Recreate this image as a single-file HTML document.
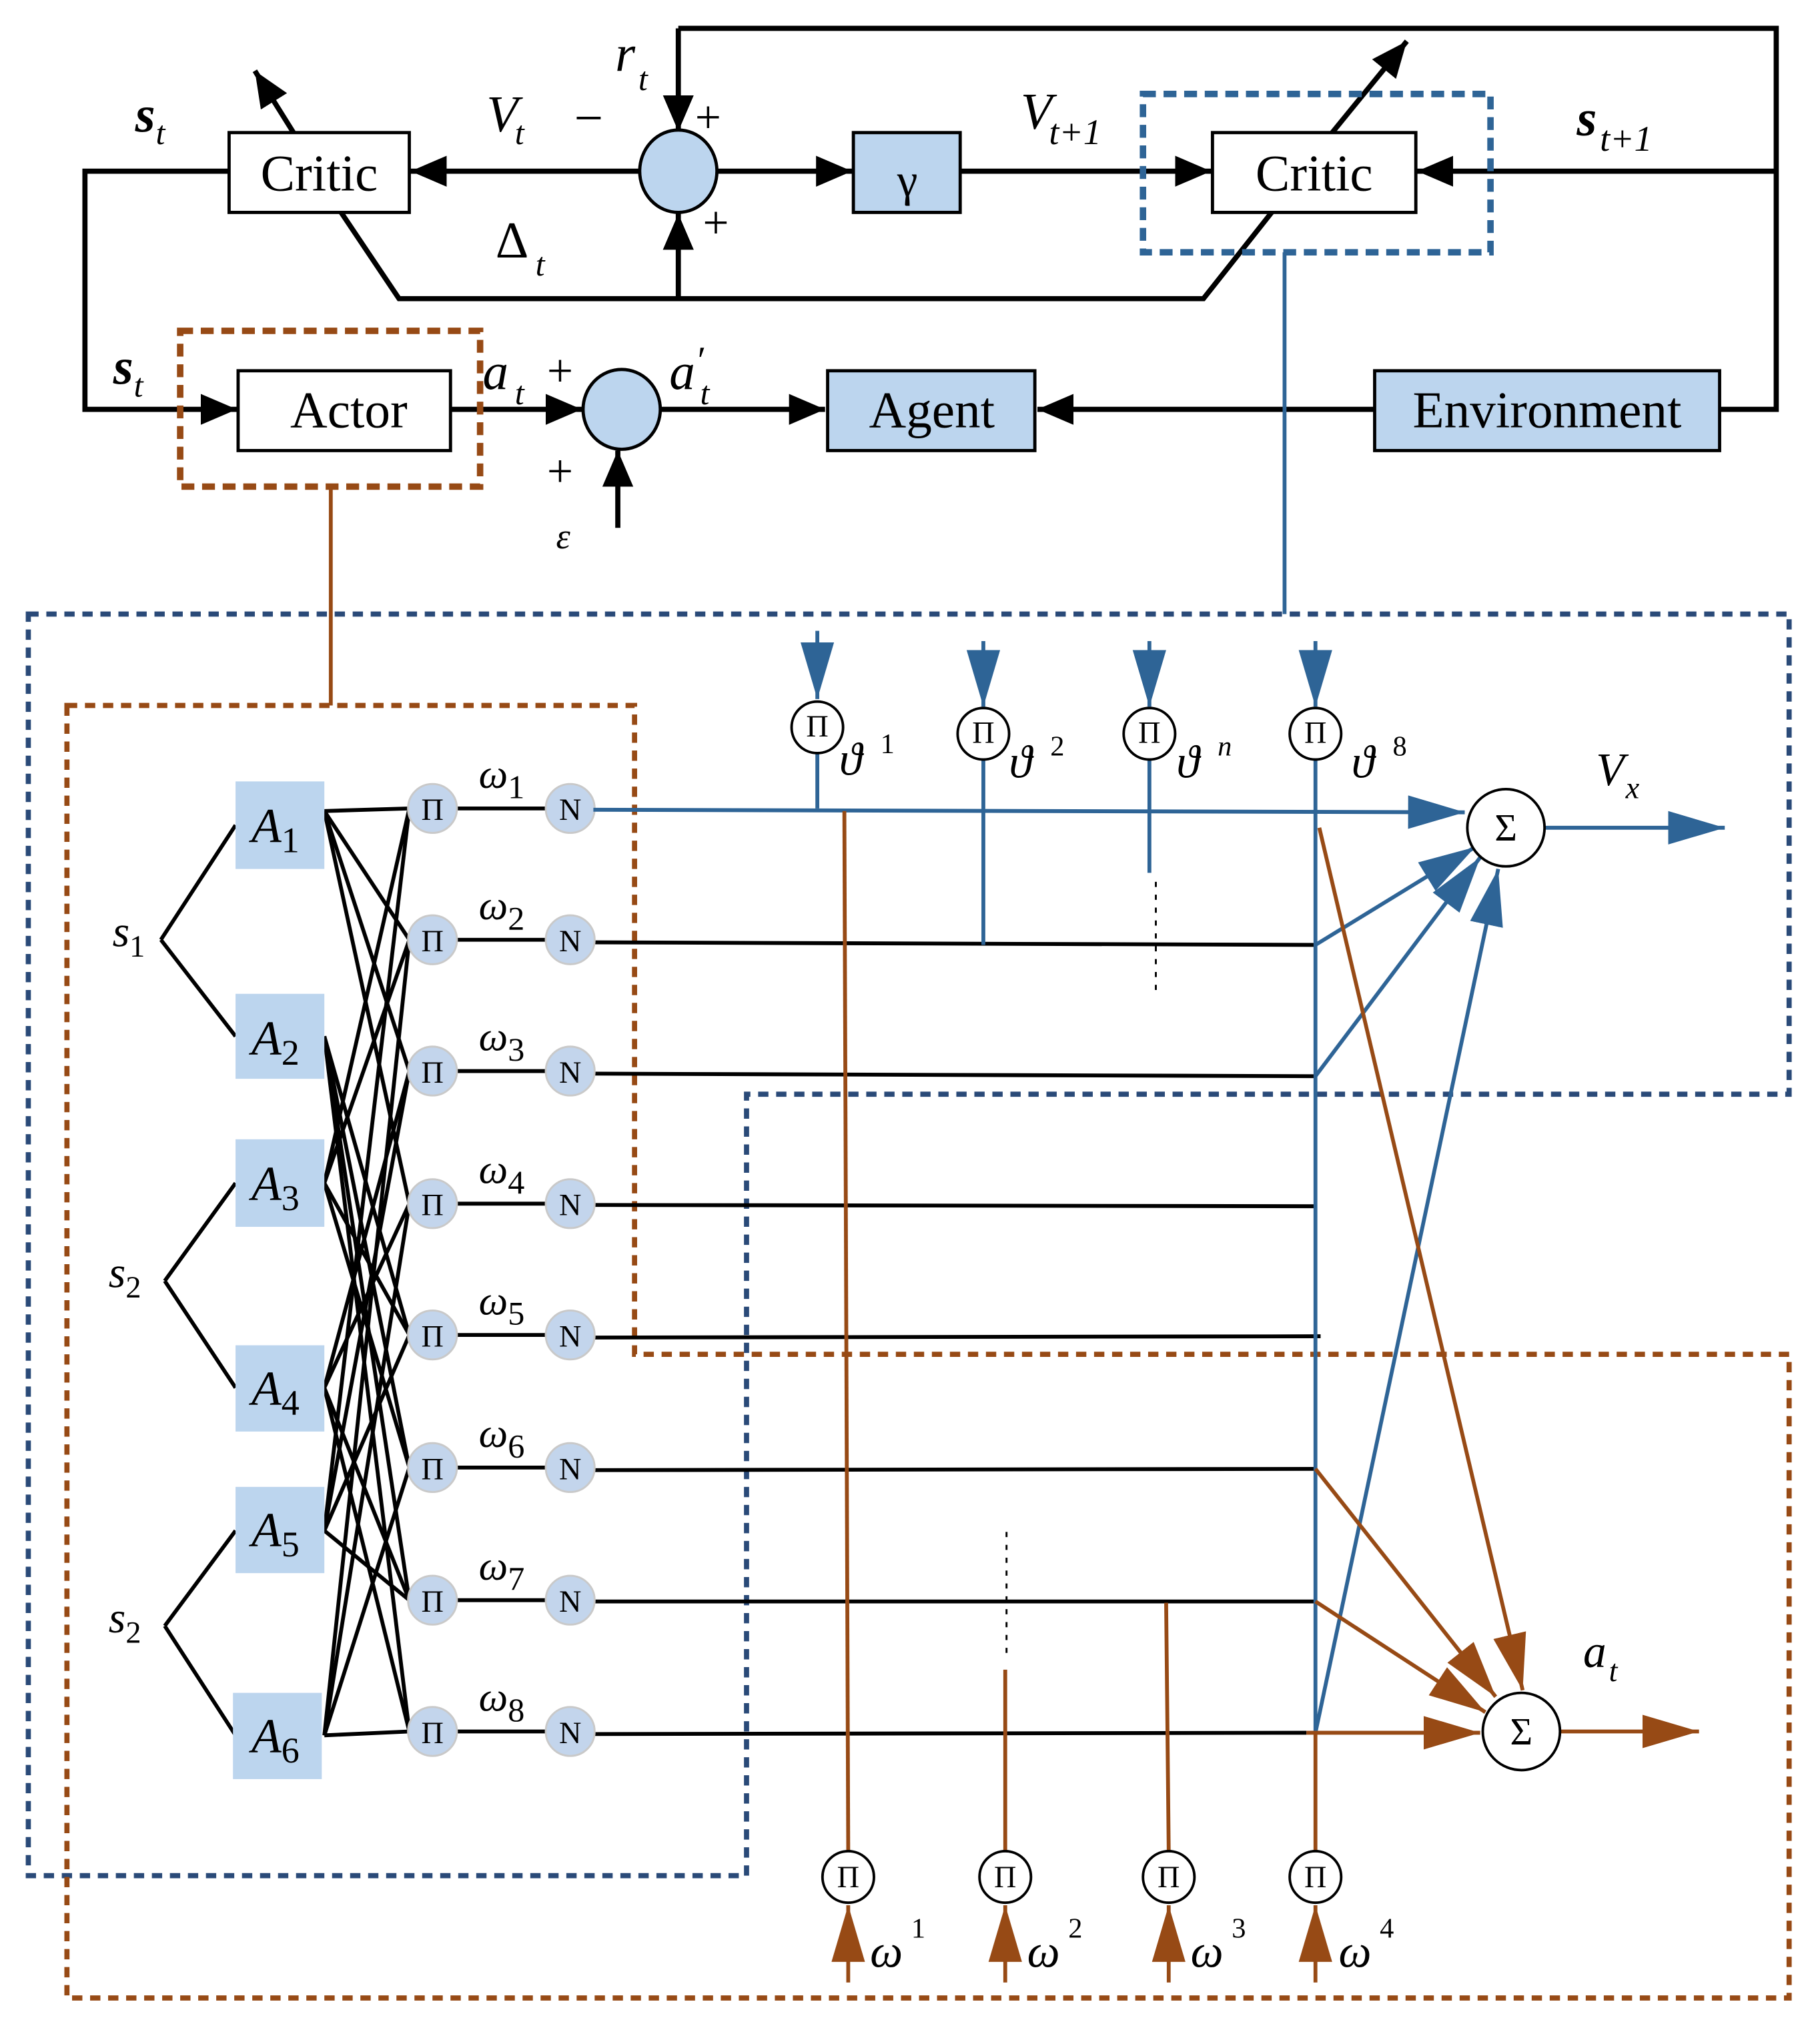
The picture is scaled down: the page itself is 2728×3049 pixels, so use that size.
<!DOCTYPE html>
<html><head><meta charset="utf-8"><style>html,body{margin:0;padding:0;background:#fff}svg{display:block}
text{font-family:"Liberation Serif","DejaVu Serif",serif}</style></head><body>
<svg width="2728" height="3049" viewBox="0 0 1414 1580" preserveAspectRatio="none" xmlns="http://www.w3.org/2000/svg">
<defs>
<marker id="k" markerWidth="30" markerHeight="30" refX="28" refY="12" orient="auto" markerUnits="userSpaceOnUse"><path d="M0,0 L28,12 L0,24 z" fill="#000"/></marker>
<marker id="b" markerWidth="46" markerHeight="30" refX="44" refY="13" orient="auto" markerUnits="userSpaceOnUse"><path d="M0,0 L44,13 L0,26 z" fill="#2e6496"/></marker>
<marker id="r" markerWidth="46" markerHeight="30" refX="44" refY="13" orient="auto" markerUnits="userSpaceOnUse"><path d="M0,0 L44,13 L0,26 z" fill="#974a15"/></marker>
</defs>
<g stroke="#000" stroke-width="4" fill="none">
<polyline points="527,22 1380,22 1380,318 1337,318"/>
<line x1="527" y1="22" x2="527" y2="102" marker-end="url(#k)"/>
<line x1="1380" y1="133" x2="1101" y2="133" marker-end="url(#k)"/>
<line x1="497" y1="133" x2="319" y2="133" marker-end="url(#k)"/>
<line x1="557" y1="133" x2="662" y2="133" marker-end="url(#k)"/>
<line x1="746" y1="133" x2="941" y2="133" marker-end="url(#k)"/>
<line x1="1035" y1="103" x2="1093" y2="32" marker-end="url(#k)"/>
<line x1="228" y1="103" x2="198" y2="55" marker-end="url(#k)"/>
<polyline points="178,133 66,133 66,318 184,318" marker-end="url(#k)"/>
<polyline points="265,165 310,232 935,232 988,165"/>
<line x1="527" y1="232" x2="527" y2="166" marker-end="url(#k)"/>
<line x1="350" y1="318" x2="452" y2="318" marker-end="url(#k)"/>
<line x1="513" y1="318" x2="641" y2="318" marker-end="url(#k)"/>
<line x1="1068" y1="318" x2="806" y2="318" marker-end="url(#k)"/>
<line x1="480" y1="410" x2="480" y2="350" marker-end="url(#k)"/>
</g>
<g stroke="#000" stroke-width="2.5">
<rect x="178" y="103" width="140" height="62" fill="#fff"/>
<rect x="942" y="103" width="158" height="62" fill="#fff"/>
<rect x="663" y="103" width="83" height="62" fill="#bcd5ee"/>
<rect x="185" y="288" width="165" height="62" fill="#fff"/>
<rect x="643" y="288" width="161" height="62" fill="#bcd5ee"/>
<rect x="1068" y="288" width="268" height="62" fill="#bcd5ee"/>
<ellipse cx="527" cy="133" rx="30" ry="32" fill="#bcd5ee"/>
<ellipse cx="483" cy="318" rx="30" ry="31" fill="#bcd5ee"/>
</g>
<rect x="888" y="73" width="270" height="123" fill="none" stroke="#2e6496" stroke-width="5" stroke-dasharray="10,6"/>
<rect x="140" y="257" width="233" height="121" fill="none" stroke="#974a15" stroke-width="5" stroke-dasharray="10,6"/>
<line x1="257" y1="378" x2="257" y2="548" stroke="#974a15" stroke-width="3"/>
<line x1="998" y1="196" x2="998" y2="477" stroke="#2e6496" stroke-width="3"/>
<g font-size="40" text-anchor="middle">
<text x="248" y="148">Critic</text><text x="1021" y="148">Critic</text>
<text x="705" y="152" font-size="36">γ</text>
<text x="271" y="332">Actor</text><text x="724" y="332">Agent</text><text x="1202" y="332">Environment</text>
</g>
<g font-size="40" font-style="italic">
<text x="105" y="102" font-weight="bold">s</text><text x="121" y="112" font-size="26">t</text>
<text x="378" y="102">V</text><text x="400" y="112" font-size="26">t</text>
<text x="446" y="105" font-style="normal">−</text>
<text x="540" y="103" font-style="normal" font-size="36">+</text>
<text x="546" y="185" font-style="normal" font-size="36">+</text>
<text x="385" y="200" font-style="normal">Δ</text><text x="416" y="214" font-size="26">t</text>
<text x="478" y="55">r</text><text x="496" y="70" font-size="26">t</text>
<text x="793" y="100">V</text><text x="815" y="112" font-size="28">t+1</text>
<text x="1225" y="105" font-weight="bold">s</text><text x="1243" y="117" font-size="28">t+1</text>
<text x="88" y="298" font-weight="bold">s</text><text x="104" y="308" font-size="26">t</text>
<text x="375" y="302">a</text><text x="400" y="314" font-size="26">t</text>
<text x="425" y="300" font-style="normal" font-size="36">+</text>
<text x="425" y="378" font-style="normal" font-size="36">+</text>
<text x="520" y="302">a</text><text x="542" y="290" font-style="normal" font-size="30">′</text><text x="544" y="314" font-size="26">t</text>
<text x="432" y="426" font-size="28">ε</text>
</g>
<polygon points="22,477 1390,477 1390,850 580,850 580,1457 22,1457" fill="none" stroke="#2a4a78" stroke-width="4" stroke-dasharray="8,6"/>
<polygon points="52,548 493,548 493,1052 1390,1052 1390,1552 52,1552" fill="none" stroke="#974a15" stroke-width="4" stroke-dasharray="8,6"/>
<g stroke="#000" stroke-width="3">
<line x1="125" y1="730" x2="183" y2="641"/><line x1="125" y1="730" x2="183" y2="805"/>
<line x1="128" y1="995" x2="183" y2="919"/><line x1="128" y1="995" x2="183" y2="1078"/>
<line x1="128" y1="1263" x2="183" y2="1189"/><line x1="128" y1="1263" x2="183" y2="1348"/>
<g>
<line x1="252" y1="630" x2="318" y2="628"/><line x1="252" y1="630" x2="318" y2="730"/><line x1="252" y1="630" x2="318" y2="832"/><line x1="252" y1="630" x2="318" y2="935"/>
<line x1="252" y1="805" x2="318" y2="1037"/><line x1="252" y1="805" x2="318" y2="1140"/><line x1="252" y1="805" x2="318" y2="1243"/><line x1="252" y1="805" x2="318" y2="1345"/>
<line x1="252" y1="919" x2="318" y2="628"/><line x1="252" y1="919" x2="318" y2="730"/><line x1="252" y1="919" x2="318" y2="1037"/><line x1="252" y1="919" x2="318" y2="1140"/>
<line x1="252" y1="1078" x2="318" y2="832"/><line x1="252" y1="1078" x2="318" y2="935"/><line x1="252" y1="1078" x2="318" y2="1243"/><line x1="252" y1="1078" x2="318" y2="1345"/>
<line x1="252" y1="1189" x2="318" y2="628"/><line x1="252" y1="1189" x2="318" y2="832"/><line x1="252" y1="1189" x2="318" y2="1037"/><line x1="252" y1="1189" x2="318" y2="1243"/>
<line x1="252" y1="1348" x2="318" y2="730"/><line x1="252" y1="1348" x2="318" y2="935"/><line x1="252" y1="1348" x2="318" y2="1140"/><line x1="252" y1="1348" x2="318" y2="1345"/>
</g>
<line x1="336" y1="628" x2="443" y2="628"/><line x1="336" y1="730" x2="443" y2="730"/><line x1="336" y1="832" x2="443" y2="832"/><line x1="336" y1="935" x2="443" y2="935"/>
<line x1="336" y1="1037" x2="443" y2="1037"/><line x1="336" y1="1140" x2="443" y2="1140"/><line x1="336" y1="1243" x2="443" y2="1243"/><line x1="336" y1="1345" x2="443" y2="1345"/>
<line x1="461" y1="732" x2="1022" y2="734"/><line x1="461" y1="834" x2="1022" y2="836"/><line x1="461" y1="936" x2="1022" y2="937"/>
<line x1="461" y1="1039" x2="1026" y2="1038"/><line x1="461" y1="1142" x2="1022" y2="1141"/><line x1="461" y1="1244" x2="1022" y2="1244"/><line x1="461" y1="1347" x2="1015" y2="1346"/>
</g>
<g fill="#bcd5ee">
<rect x="183" y="607" width="69" height="68"/><rect x="183" y="772" width="69" height="66"/><rect x="183" y="885" width="69" height="68"/>
<rect x="183" y="1045" width="69" height="67"/><rect x="183" y="1155" width="69" height="67"/><rect x="181" y="1315" width="69" height="67"/>
</g>
<g font-size="38" font-style="italic" text-anchor="middle">
<text x="214" y="654">A<tspan font-size="28" dy="8" font-style="normal">1</tspan></text>
<text x="214" y="819">A<tspan font-size="28" dy="8" font-style="normal">2</tspan></text>
<text x="214" y="932">A<tspan font-size="28" dy="8" font-style="normal">3</tspan></text>
<text x="214" y="1091">A<tspan font-size="28" dy="8" font-style="normal">4</tspan></text>
<text x="214" y="1201">A<tspan font-size="28" dy="8" font-style="normal">5</tspan></text>
<text x="214" y="1361">A<tspan font-size="28" dy="8" font-style="normal">6</tspan></text>
<text x="100" y="735" font-size="34">s<tspan font-size="24" dy="8" font-style="normal">1</tspan></text>
<text x="97" y="1000" font-size="34">s<tspan font-size="24" dy="8" font-style="normal">2</tspan></text>
<text x="97" y="1268" font-size="34">s<tspan font-size="24" dy="8" font-style="normal">2</tspan></text>
</g>
<g fill="#c3d5ec" stroke="#c9c9c9" stroke-width="1.5">
<circle cx="336" cy="628" r="19"/><circle cx="336" cy="730" r="19"/><circle cx="336" cy="832" r="19"/><circle cx="336" cy="935" r="19"/>
<circle cx="336" cy="1037" r="19"/><circle cx="336" cy="1140" r="19"/><circle cx="336" cy="1243" r="19"/><circle cx="336" cy="1345" r="19"/>
<circle cx="443" cy="628" r="19"/><circle cx="443" cy="730" r="19"/><circle cx="443" cy="832" r="19"/><circle cx="443" cy="935" r="19"/>
<circle cx="443" cy="1037" r="19"/><circle cx="443" cy="1140" r="19"/><circle cx="443" cy="1243" r="19"/><circle cx="443" cy="1345" r="19"/>
</g>
<g font-size="24" text-anchor="middle">
<text x="336" y="637">Π</text><text x="336" y="739">Π</text><text x="336" y="841">Π</text><text x="336" y="944">Π</text>
<text x="336" y="1046">Π</text><text x="336" y="1149">Π</text><text x="336" y="1252">Π</text><text x="336" y="1354">Π</text>
<text x="443" y="637">N</text><text x="443" y="739">N</text><text x="443" y="841">N</text><text x="443" y="944">N</text>
<text x="443" y="1046">N</text><text x="443" y="1149">N</text><text x="443" y="1252">N</text><text x="443" y="1354">N</text>
</g>
<g font-size="32" font-style="italic">
<text x="372" y="612">ω<tspan font-size="26" dy="8" font-style="normal">1</tspan></text>
<text x="372" y="714">ω<tspan font-size="26" dy="8" font-style="normal">2</tspan></text>
<text x="372" y="816">ω<tspan font-size="26" dy="8" font-style="normal">3</tspan></text>
<text x="372" y="919">ω<tspan font-size="26" dy="8" font-style="normal">4</tspan></text>
<text x="372" y="1021">ω<tspan font-size="26" dy="8" font-style="normal">5</tspan></text>
<text x="372" y="1124">ω<tspan font-size="26" dy="8" font-style="normal">6</tspan></text>
<text x="372" y="1227">ω<tspan font-size="26" dy="8" font-style="normal">7</tspan></text>
<text x="372" y="1329">ω<tspan font-size="26" dy="8" font-style="normal">8</tspan></text>
</g>
<g stroke="#2e6496" stroke-width="3" fill="none">
<line x1="461" y1="629" x2="1138" y2="631" marker-end="url(#b)"/>
<line x1="635" y1="490" x2="635" y2="543" marker-end="url(#b)"/>
<line x1="764" y1="498" x2="764" y2="549" marker-end="url(#b)"/>
<line x1="893" y1="498" x2="893" y2="549" marker-end="url(#b)"/>
<line x1="1022" y1="498" x2="1022" y2="549" marker-end="url(#b)"/>
<line x1="635" y1="585" x2="635" y2="628"/>
<line x1="764" y1="585" x2="764" y2="734"/>
<line x1="893" y1="585" x2="893" y2="678"/>
<line x1="1022" y1="585" x2="1022" y2="1346"/>
<line x1="1022" y1="734" x2="1146" y2="658" marker-end="url(#b)"/>
<line x1="1022" y1="836" x2="1150" y2="666" marker-end="url(#b)"/>
<line x1="1022" y1="1346" x2="1164" y2="675" marker-end="url(#b)"/>
<line x1="1200" y1="643" x2="1340" y2="643" marker-end="url(#b)"/>
</g>
<line x1="898" y1="685" x2="898" y2="775" stroke="#000" stroke-width="1.5" stroke-dasharray="4,6"/>
<line x1="782" y1="1190" x2="782" y2="1290" stroke="#000" stroke-width="1.5" stroke-dasharray="4,6"/>
<g stroke="#974a15" stroke-width="3" fill="none">
<line x1="659" y1="1438" x2="656" y2="630"/>
<line x1="781" y1="1438" x2="781" y2="1297"/>
<line x1="908" y1="1438" x2="906" y2="1245"/>
<line x1="1022" y1="1438" x2="1022" y2="1346"/>
<line x1="659" y1="1540" x2="659" y2="1480" marker-end="url(#r)"/>
<line x1="781" y1="1540" x2="781" y2="1480" marker-end="url(#r)"/>
<line x1="908" y1="1540" x2="908" y2="1480" marker-end="url(#r)"/>
<line x1="1022" y1="1540" x2="1022" y2="1480" marker-end="url(#r)"/>
<line x1="1025" y1="643" x2="1183" y2="1313" marker-end="url(#r)"/>
<line x1="1022" y1="1141" x2="1162" y2="1318" marker-end="url(#r)"/>
<line x1="1022" y1="1244" x2="1154" y2="1330" marker-end="url(#r)"/>
<line x1="1015" y1="1346" x2="1150" y2="1346" marker-end="url(#r)"/>
<line x1="1212" y1="1345" x2="1320" y2="1345" marker-end="url(#r)"/>
</g>
<g fill="#fff" stroke="#000" stroke-width="2">
<circle cx="635" cy="565" r="20"/><circle cx="764" cy="570" r="20"/><circle cx="893" cy="570" r="20"/><circle cx="1022" cy="570" r="20"/>
<circle cx="659" cy="1458" r="20"/><circle cx="781" cy="1458" r="20"/><circle cx="908" cy="1458" r="20"/><circle cx="1022" cy="1458" r="20"/>
<circle cx="1170" cy="643" r="30"/><circle cx="1182" cy="1345" r="30"/>
</g>
<g font-size="24" text-anchor="middle">
<text x="635" y="572">Π</text><text x="764" y="577">Π</text><text x="893" y="577">Π</text><text x="1022" y="577">Π</text>
<text x="659" y="1466">Π</text><text x="781" y="1466">Π</text><text x="908" y="1466">Π</text><text x="1022" y="1466">Π</text>
<text x="1170" y="653" font-size="30">Σ</text><text x="1182" y="1355" font-size="30">Σ</text>
</g>
<g font-size="36" font-style="italic">
<text x="652" y="602">ϑ</text><text x="684" y="585" font-size="22" font-style="normal">1</text>
<text x="784" y="604">ϑ</text><text x="816" y="587" font-size="22" font-style="normal">2</text>
<text x="914" y="604">ϑ</text><text x="946" y="587" font-size="22">n</text>
<text x="1050" y="604">ϑ</text><text x="1082" y="587" font-size="22" font-style="normal">8</text>
<text x="676" y="1528">ω</text><text x="708" y="1505" font-size="22" font-style="normal">1</text>
<text x="798" y="1528">ω</text><text x="830" y="1505" font-size="22" font-style="normal">2</text>
<text x="925" y="1528">ω</text><text x="957" y="1505" font-size="22" font-style="normal">3</text>
<text x="1040" y="1528">ω</text><text x="1072" y="1505" font-size="22" font-style="normal">4</text>
<text x="1240" y="610" font-size="36">V</text><text x="1263" y="620" font-size="24">x</text>
<text x="1230" y="1295" font-size="36">a</text><text x="1250" y="1306" font-size="24">t</text>
</g>
</svg>
</body></html>
